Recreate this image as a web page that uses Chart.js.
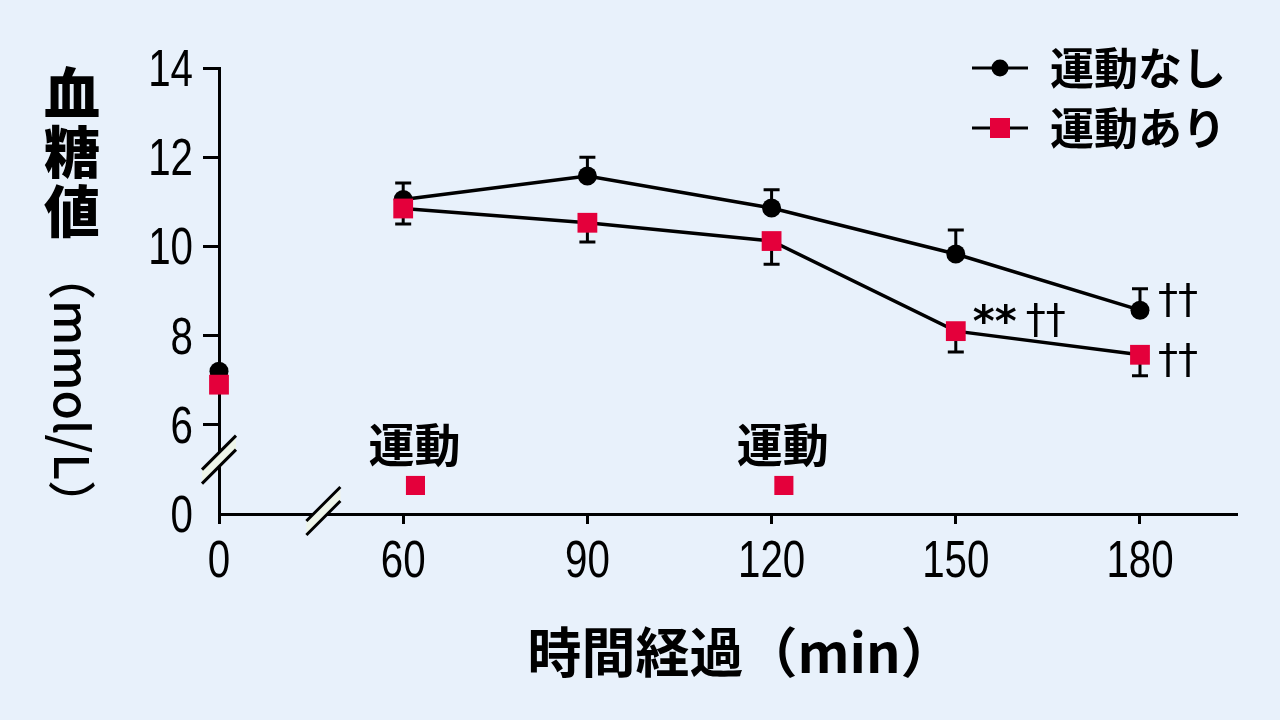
<!DOCTYPE html>
<html lang="ja">
<head>
<meta charset="utf-8">
<title>血糖値の推移</title>
<script src="https://cdn.jsdelivr.net/npm/chart.js@4.4.1/dist/chart.umd.min.js"></script>
<style>
  html, body { margin: 0; padding: 0; background: #e8f1fb; }
  #wrap { width: 1280px; height: 720px; }
</style>
</head>
<body>
<div id="wrap"><canvas id="chart-area" width="1280" height="720"></canvas></div>
<script>
// time axis: the 0 min point is placed at 30 so the axis can be broken before 60
var timeLabels = [0, 60, 90, 120, 150, 180];
var timePos = [30, 60, 90, 120, 150, 180];

// 運動なし (mean, upper SE)
var noExMean = [7.2, 11.05, 11.58, 10.86, 9.83, 8.57];
var noExErr = [0, 0.37, 0.42, 0.41, 0.54, 0.48];
// 運動あり (mean, lower SE)
var exMean = [6.9, 10.85, 10.53, 10.12, 8.1, 7.57];
var exErr = [0, 0.35, 0.43, 0.52, 0.47, 0.47];

// exercise bouts, drawn on the broken part of the y axis
var exerciseTimes = [62, 122];
var exerciseLevel = 4.64;

// y ticks: 4 is the bottom of the broken axis and is shown as 0
var yTicks = [4, 6, 8, 10, 12, 14];

var BLACK = '#000000';
var RED = '#e4003b';
var numFont = '"Liberation Sans", Arial, sans-serif';
var jpFont = '"Noto Sans CJK JP", "Noto Sans", sans-serif';
var NARROW = 0.79; //tick digits in the original are a condensed face

var chart;

function toPoints(xs, ys) {
    var pts = [];
    for (var i = 0; i < xs.length; i++) {
        pts.push({ x: xs[i], y: ys[i] });
    }
    return pts;
}

function xLabel(v) { return String(timeLabels[timePos.indexOf(v)]); }
function yLabel(v) { return v === 4 ? '0' : String(v); }

//condensed text: squeeze horizontally around the anchor
function narrowText(ctx, text, x, y) {
    ctx.save();
    ctx.translate(x, y);
    ctx.scale(NARROW, 1);
    ctx.fillText(text, 0, 0);
    ctx.restore();
}

//draws background, error bars, tick labels, axis breaks, legend, titles and the significance marks
var decorPlugin = {
    id: 'decor',
    beforeDraw: function (c) {
        var ctx = c.ctx;
        ctx.save();
        ctx.fillStyle = '#e8f1fb';
        ctx.fillRect(0, 0, c.width, c.height);
        ctx.restore();
    },
    beforeDatasetsDraw: function (c) {
        var ctx = c.ctx;
        var xs = c.scales.x, ys = c.scales.y;
        ctx.save();
        ctx.strokeStyle = BLACK;
        ctx.lineWidth = 3;
        for (var i = 0; i < timePos.length; i++) {
            var px = xs.getPixelForValue(timePos[i]);
            if (noExErr[i] > 0) {
                drawErr(ctx, px, ys.getPixelForValue(noExMean[i]), ys.getPixelForValue(noExMean[i] + noExErr[i]));
            }
            if (exErr[i] > 0) {
                drawErr(ctx, px, ys.getPixelForValue(exMean[i]), ys.getPixelForValue(exMean[i] - exErr[i]));
            }
        }
        ctx.restore();
    },
    afterDraw: function (c) {
        var ctx = c.ctx;
        var xs = c.scales.x, ys = c.scales.y;
        ctx.save();

        //tick labels
        ctx.fillStyle = BLACK;
        ctx.font = '51px ' + numFont;
        ctx.textBaseline = 'alphabetic';
        ctx.textAlign = 'center';
        xs.ticks.forEach(function (t) {
            narrowText(ctx, xLabel(t.value), xs.getPixelForValue(t.value), 577);
        });
        ctx.textAlign = 'right';
        ys.ticks.forEach(function (t) {
            narrowText(ctx, yLabel(t.value), c.chartArea.left - 26, ys.getPixelForValue(t.value) + 18);
        });

        //axis breaks
        drawBreak(ctx, c.chartArea.left, ys.getPixelForValue(5.22));
        drawBreak(ctx, xs.getPixelForValue(47), c.chartArea.bottom - 3);

        //exercise labels
        ctx.fillStyle = BLACK;
        ctx.textAlign = 'center';
        ctx.textBaseline = 'middle';
        ctx.font = 'bold 46px ' + jpFont;
        var exMeta = c.getDatasetMeta(2);
        exMeta.data.forEach(function (pt) {
            ctx.fillText('運動', pt.x - 1, pt.y - 41);
        });

        //significance marks
        var redMeta = c.getDatasetMeta(1);
        var blackMeta = c.getDatasetMeta(0);
        var r150 = redMeta.data[4], r180 = redMeta.data[5], b180 = blackMeta.data[5];
        ctx.textAlign = 'left';
        ctx.font = 'bold 42px "DejaVu Sans", sans-serif';
        ctx.fillText('**', r150.x + 17, r150.y - 6);
        ctx.font = '40px "DejaVu Sans", sans-serif';
        ctx.fillText('††', r150.x + 70, r150.y - 9);
        ctx.fillText('††', b180.x + 18, b180.y - 8);
        ctx.fillText('††', r180.x + 18, r180.y + 8);

        //legend
        ctx.strokeStyle = BLACK;
        ctx.lineWidth = 3;
        ctx.beginPath();
        ctx.moveTo(972, 68); ctx.lineTo(1028, 68);
        ctx.moveTo(972, 128); ctx.lineTo(1028, 128);
        ctx.stroke();
        ctx.beginPath();
        ctx.arc(1000, 68, 8.5, 0, Math.PI * 2);
        ctx.fill();
        ctx.fillStyle = RED;
        ctx.fillRect(990, 118, 20, 20);
        ctx.fillStyle = BLACK;
        ctx.font = 'bold 44px ' + jpFont;
        ctx.fillText('運動なし', 1050, 68);
        ctx.fillText('運動あり', 1050, 128);

        //y title, written vertically
        ctx.textAlign = 'center';
        ctx.font = '900 56px ' + jpFont;
        ctx.fillText('血', 72, 93);
        ctx.fillText('糖', 72, 152);
        ctx.fillText('値', 72, 211);
        ctx.save();
        ctx.translate(72, 390);
        ctx.rotate(Math.PI / 2);
        ctx.font = '500 48px ' + jpFont;
        ctx.fillText('（mmol/L）', 0, 0);
        ctx.restore();

        //x title
        ctx.font = 'bold 54px ' + jpFont;
        ctx.fillText('時間経過（min）', 741, 652);

        ctx.restore();
    }
};

function drawErr(ctx, px, from, to) {
    ctx.beginPath();
    ctx.moveTo(px, from);
    ctx.lineTo(px, to);
    ctx.moveTo(px - 8, to);
    ctx.lineTo(px + 8, to);
    ctx.stroke();
}

//double slash with light fill, centred on the axis
function drawBreak(ctx, cx, cy) {
    var dx = 17, gap = 7;
    ctx.save();
    ctx.beginPath();
    ctx.moveTo(cx - dx, cy + dx - gap);
    ctx.lineTo(cx + dx, cy - dx - gap);
    ctx.lineTo(cx + dx, cy - dx + gap);
    ctx.lineTo(cx - dx, cy + dx + gap);
    ctx.closePath();
    ctx.fillStyle = '#eef5e9';
    ctx.fill();
    ctx.strokeStyle = BLACK;
    ctx.lineWidth = 3;
    ctx.beginPath();
    ctx.moveTo(cx - dx, cy + dx - gap);
    ctx.lineTo(cx + dx, cy - dx - gap);
    ctx.moveTo(cx - dx, cy + dx + gap);
    ctx.lineTo(cx + dx, cy - dx + gap);
    ctx.stroke();
    ctx.restore();
}

function hideFirstSegment(ctx) {
    return ctx.p0DataIndex === 0 ? 'rgba(0,0,0,0)' : BLACK;
}

chart = new Chart(document.getElementById('chart-area').getContext('2d'), {
    type: 'line',
    plugins: [decorPlugin],
    data: {
        datasets: [
            {
                label: '運動なし',
                data: toPoints(timePos, noExMean),
                borderColor: BLACK,
                borderWidth: 3.5,
                segment: { borderColor: hideFirstSegment },
                pointStyle: 'circle',
                pointRadius: 9.5,
                pointBorderWidth: 0,
                pointBackgroundColor: BLACK,
                tension: 0,
                clip: false,
                order: 1
            },
            {
                label: '運動あり',
                data: toPoints(timePos, exMean),
                borderColor: BLACK,
                borderWidth: 3.5,
                segment: { borderColor: hideFirstSegment },
                pointStyle: 'rect',
                pointRadius: 14,
                pointBorderWidth: 0,
                pointBackgroundColor: RED,
                tension: 0,
                clip: false,
                order: 0
            },
            {
                label: '運動',
                data: exerciseTimes.map(function (t) { return { x: t, y: exerciseLevel }; }),
                showLine: false,
                pointStyle: 'rect',
                pointRadius: 13.5,
                pointBorderWidth: 0,
                pointBackgroundColor: RED,
                clip: false,
                order: 0
            }
        ]
    },
    options: {
        responsive: false,
        animation: false,
        devicePixelRatio: 1,
        layout: { padding: { top: 68, right: 43, left: 0, bottom: 0 } },
        plugins: {
            legend: { display: false },
            tooltip: { enabled: false }
        },
        scales: {
            x: {
                type: 'linear',
                min: 30,
                max: 195.8,
                afterBuildTicks: function (scale) {
                    scale.ticks = timePos.map(function (v) { return { value: v }; });
                },
                afterFit: function (scale) {
                    scale.height = 206;
                    scale.paddingLeft = 0; scale.paddingRight = 0;
                },
                ticks: { display: false, autoSkip: false, maxRotation: 0, callback: xLabel },
                grid: {
                    display: true,
                    drawOnChartArea: false,
                    drawTicks: true,
                    tickLength: 10,
                    tickWidth: 3,
                    tickColor: BLACK
                },
                border: { display: true, color: BLACK, width: 3 }
            },
            y: {
                type: 'linear',
                min: 4,
                max: 14,
                afterBuildTicks: function (scale) {
                    scale.ticks = yTicks.map(function (v) { return { value: v }; });
                },
                afterFit: function (scale) {
                    scale.width = 219;
                    scale.paddingTop = 0; scale.paddingBottom = 0;
                },
                ticks: { display: false, callback: yLabel },
                grid: {
                    display: true,
                    drawOnChartArea: false,
                    drawTicks: true,
                    tickLength: 16,
                    tickWidth: 3,
                    tickColor: function (ctx) {
                        return ctx.tick && ctx.tick.value === 4 ? 'rgba(0,0,0,0)' : BLACK;
                    }
                },
                border: { display: true, color: BLACK, width: 3 }
            }
        }
    }
});
</script>
</body>
</html>
